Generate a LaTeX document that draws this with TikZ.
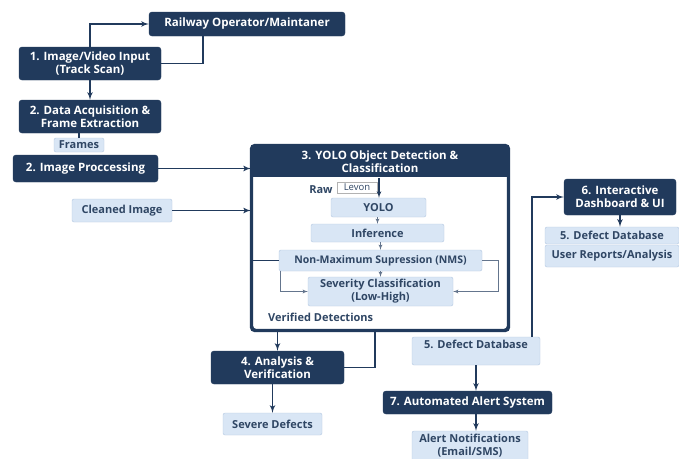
\documentclass[tikz,border=0pt]{standalone}
\usepackage{fontspec}
\setmainfont{Open Sans}
\usetikzlibrary{arrows}
\definecolor{navy}{HTML}{213A5C}
\definecolor{pale}{HTML}{D9E6F5}
\definecolor{paleline}{HTML}{B4C8E2}
\definecolor{paletext}{HTML}{2F4664}
\tikzset{
    dark/.style={rectangle,rounded corners=3pt,fill=navy,draw=navy,text=white,font=\fontsize{11.5}{13}\selectfont\bfseries,align=center,inner sep=1pt},
    light/.style={rectangle,rounded corners=2pt,fill=pale,draw=paleline,text=paletext,font=\fontsize{11}{13}\selectfont\bfseries,align=center,inner sep=1pt},
    plain/.style={text=paletext,font=\fontsize{11}{13}\selectfont\bfseries,inner sep=1pt},
    arr/.style={->,> = latex', draw=navy, line width=1.6pt},
    line/.style={-, draw=navy, line width=1.6pt},
    sarr/.style={->,> = latex', draw=navy!70, line width=0.8pt},
    sline/.style={-, draw=navy!70, line width=0.8pt},
}
\begin{document}
\begin{tikzpicture}[x=1pt,y=-1pt]
\clip (0,0) rectangle (679,458);
\fill[white] (0,0) rectangle (679,458);
% left column
\node[dark,minimum width=196pt,minimum height=24pt] (rail) at (247,24) {Railway Operator/Maintaner};
\node[dark,minimum width=142pt,minimum height=33pt] (in1) at (90,63.5) {1. Image/Video Input\\(Track Scan)};
\node[dark,minimum width=142pt,minimum height=33pt] (acq) at (90,116.5) {2. Data Acquisition \&\\Frame Extraction};
\node[light,minimum width=50pt,minimum height=14pt] (frames) at (79,145) {Frames};
\node[dark,minimum width=145pt,minimum height=27pt] (proc) at (85.5,168.5) {2. Image Proccessing};
\node[light,minimum width=100pt,minimum height=23pt] (clean) at (122,210.5) {Cleaned Image};
\coordinate (railret) at (203,36);
\draw[arr] (in1.north) |- (rail.west);
\draw[line] (railret) |- (in1.east);
\draw[arr] (in1.south) -- (acq.north);
\draw[line] (acq.south -| frames.north) -- (frames.north);
% detection block
\node[rectangle,rounded corners=4pt,draw=navy,line width=2.2pt,fill=white,minimum width=256pt,minimum height=184pt] (det) at (380,238) {};
\fill[navy] ([yshift=-32pt]det.north west) [rounded corners=4pt] -- (det.north west) -- (det.north east) [sharp corners] -- ([yshift=-32pt]det.north east) -- cycle;
\draw[navy,line width=2.2pt,rounded corners=4pt] (det.north west) rectangle (det.south east);
\node[text=white,font=\fontsize{11.5}{13}\selectfont\bfseries,align=center] (dettitle) at (380,162) {3. YOLO Object Detection \&\\Classification};
\node[plain] (raw) at (321,190) {Raw};
\node[rectangle,draw=gray!60,line width=0.5pt,text=paletext,font=\fontsize{9.5}{10}\selectfont,inner sep=1pt,minimum width=40pt,minimum height=11pt] (levon) at (357,187.5) {Levon};
\node[light,minimum width=95pt,minimum height=19pt] (yolo) at (378.5,207.5) {YOLO};
\node[light,minimum width=133pt,minimum height=18pt] (infer) at (377.5,233) {Inference};
\node[light,minimum width=203pt,minimum height=21pt,font=\fontsize{10.5}{12}\selectfont\bfseries] (nms) at (380.5,260.5) {Non-Maximum Supression (NMS)};
\node[light,minimum width=145pt,minimum height=29pt] (sev) at (380.5,291.5) {Severity Classification\\(Low-High)};
\node[plain,anchor=west] (verif) at (267,317) {Verified Detections};
\coordinate (rawin) at (379,178);
\draw[arr,line width=1.2pt] (rawin) -- (rawin |- yolo.north);
\draw[sarr] (yolo.south -| infer.north) -- (infer.north);
\draw[sarr] (infer.south -| nms.north) -- (nms.north);
\draw[sarr] (nms.south) -- (nms.south |- sev.north);
\draw[line] (det.west |- nms.west) -- (nms.west);
\draw[sarr] ([xshift=2pt]nms.south west) |- (sev.west);
\draw[sarr] (nms.east) -- ++(16,0) |- (sev.east);
\draw[arr] (proc.east) -- (det.west |- proc.east);
\draw[arr] (clean.east) -- (det.west |- clean.east);
% analysis
\node[dark,minimum width=133pt,minimum height=33pt] (ana) at (277.5,367.5) {4. Analysis \&\\Verification};
\node[light,minimum width=99pt,minimum height=22pt] (severe) at (272.5,424) {Severe Defects};
\coordinate (detout) at (375,330);
\draw[arr] (det.south -| ana.north) -- (ana.north);
\draw[line] (detout) |- (ana.east);
\draw[arr] (ana.south -| severe.north) -- (severe.north);
% database and alerts
\node[light,minimum width=128pt,text height=8pt,text depth=14pt,inner sep=3pt] (dbl) at (476,351) {5. Defect Database};
\node[dark,minimum width=169pt,minimum height=23pt] (alert) at (467.5,402.5) {7. Automated Alert System};
\node[light,minimum width=116pt,minimum height=30pt] (notif) at (470,446) {Alert Notifications\\(Email/SMS)};
\node[dark,minimum width=112pt,minimum height=36pt] (dash) at (620,197) {6. Interactive\\Dashboard \& UI};
\node[light,minimum width=134pt,minimum height=17pt] (dbs) at (612,235.5) {5. Defect Database};
\node[light,minimum width=134pt,minimum height=22pt] (rep) at (612,256) {User Reports/Analysis};
\coordinate (dbup) at (532,337);
\draw[line,->,> = latex'] (dbup) |- (dash.west);
\draw[arr] (dash.south) -- (dash.south |- dbs.north);
\draw[arr] (dbl.south) -- (dbl.south |- alert.north);
\draw[arr] (alert.south -| dbl.south) -- (dbl.south |- notif.north);
\end{tikzpicture}
\end{document}
